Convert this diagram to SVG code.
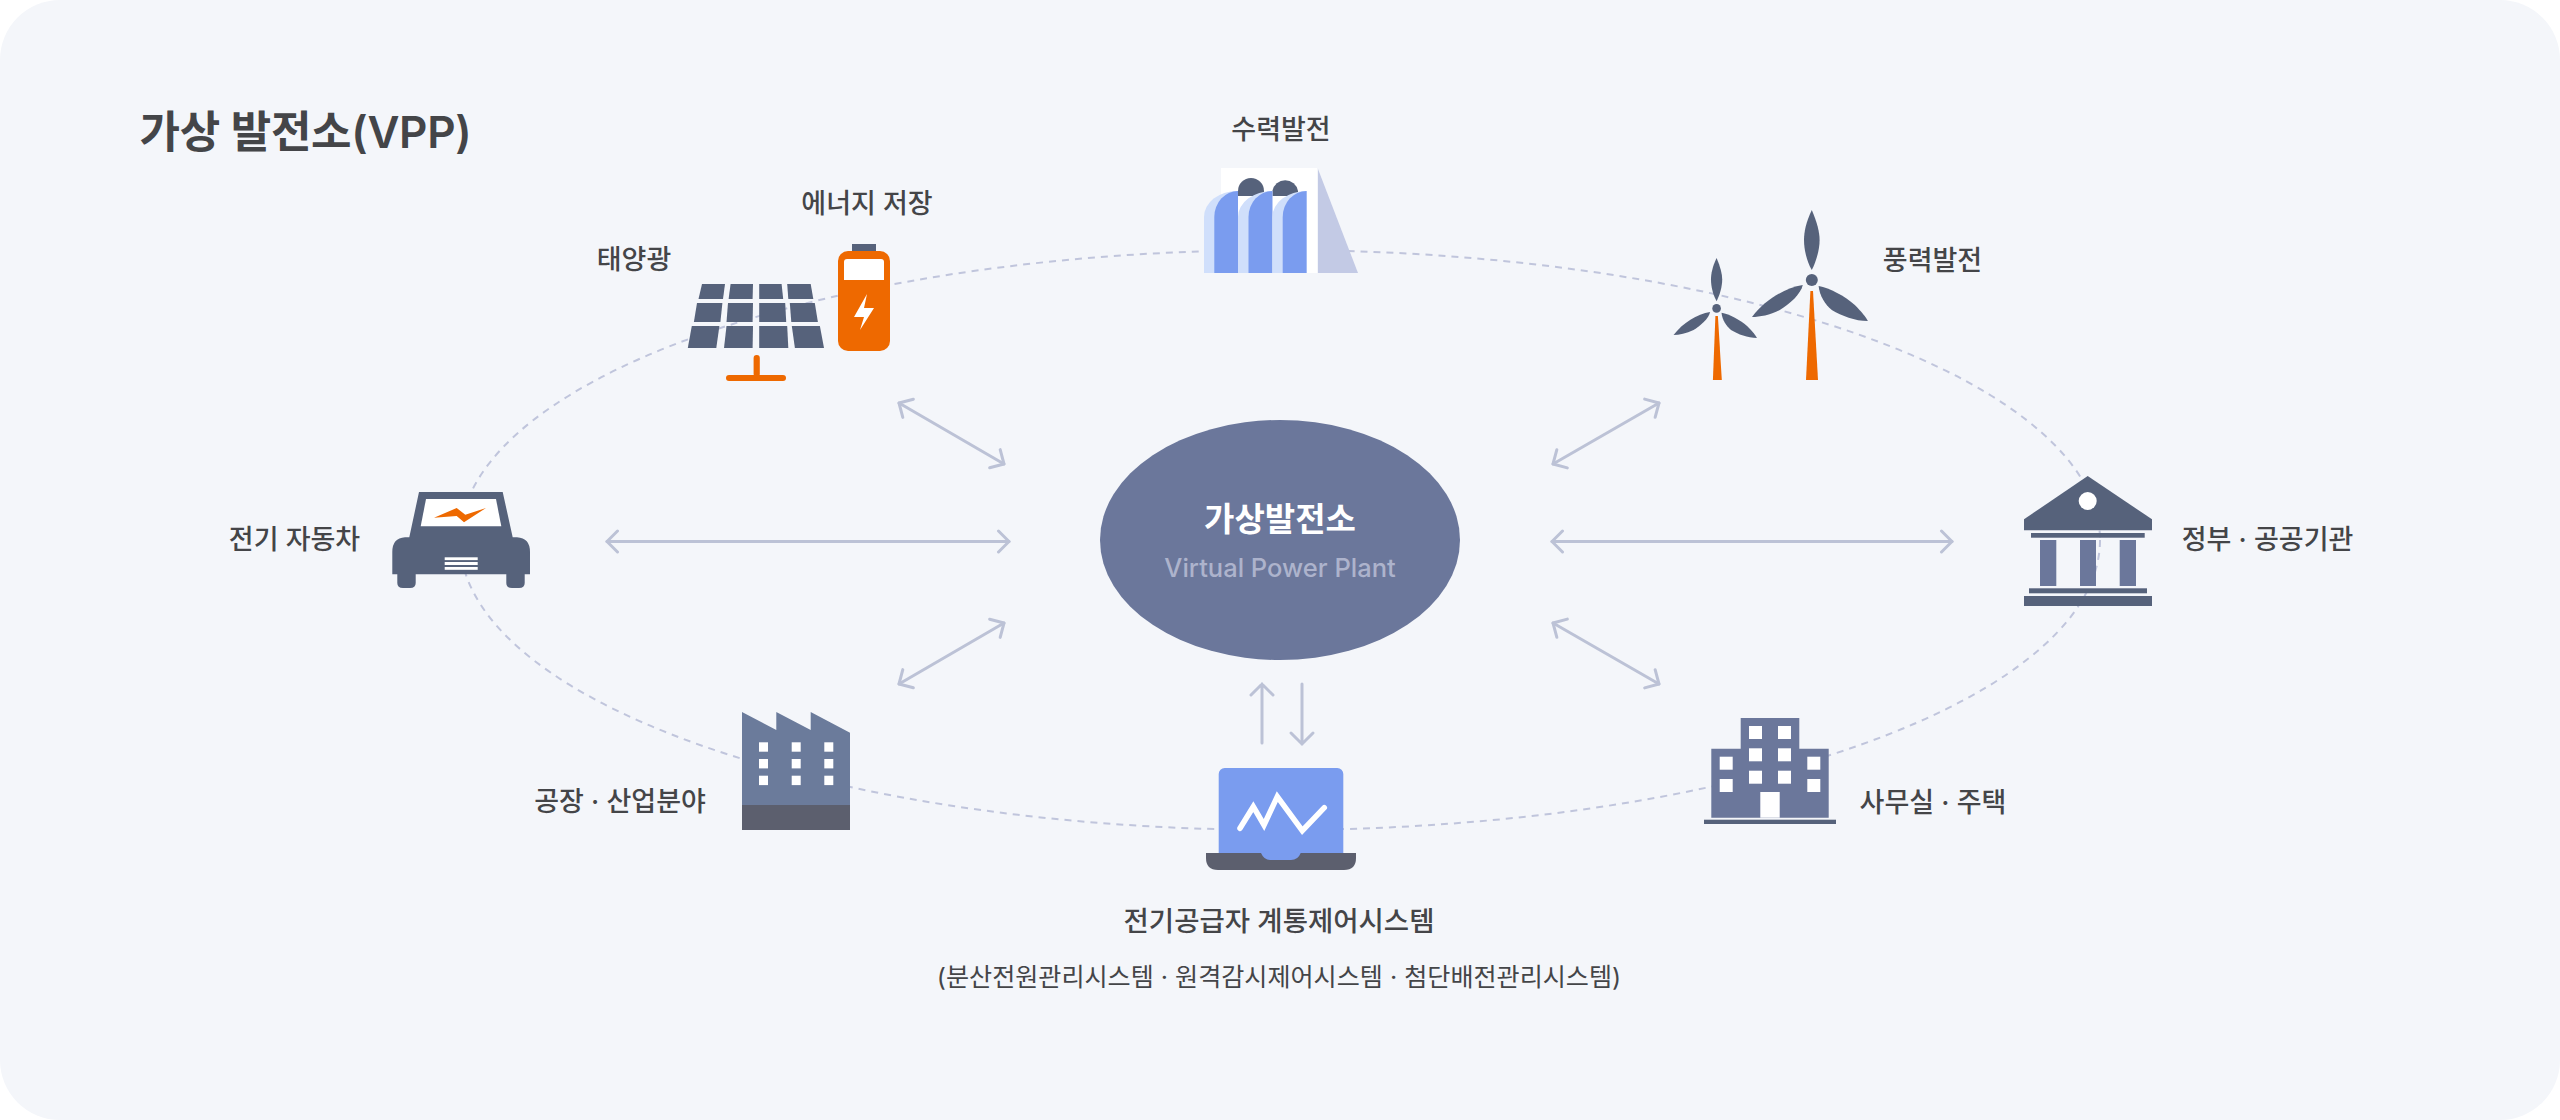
<svg xmlns="http://www.w3.org/2000/svg" xmlns:xlink="http://www.w3.org/1999/xlink" width="2560" height="1120" viewBox="0 0 2560 1120">
<style>
text{font-family:Inter,"Noto Sans CJK KR",sans-serif;fill:#444548;text-anchor:middle}
.lb{font-size:27px;font-weight:500}
.dk{fill:#56627b}.md{fill:#6b779b}.or{fill:#ee6900}.wh{fill:#fff}.bl{fill:#7a9cef}.lt{fill:#d0dffb}.gr{fill:#5c5f6e}
.arrow{fill:none;stroke:#bcc2d6;stroke-width:3;stroke-linecap:round;marker-start:url(#ah);marker-end:url(#ah)}
.arr1{fill:none;stroke:#bcc2d6;stroke-width:3;stroke-linecap:round}
</style>
<defs>
<marker id="ah" markerUnits="userSpaceOnUse" viewBox="-14 -14 16 28" markerWidth="16" markerHeight="28" refX="0" refY="0" orient="auto-start-reverse"><path d="M-10.5 -10.5L0 0L-10.5 10.5" fill="none" stroke="#bcc2d6" stroke-width="3" stroke-linecap="round" stroke-linejoin="round"/></marker>
<g id="blades" class="dk">
<path d="M0 -70C-5.8 -58 -7.8 -48 -7.8 -40C-7.8 -30 -4.8 -18 0 -10C4.2 -18 7.8 -30 7.8 -40C7.8 -48 5.2 -58 0 -70Z"/>
<path d="M-59.8 37C-47 20 -27 8 -9 5C-11 14 -22 24 -32 30C-42 35 -52 37 -59.8 37Z"/>
<path d="M6.8 6C18 8 33 16 43 25C50 32 54 37 56.1 41C43 41 30 36 20 30C13 24 8 16 6.8 6Z"/>
<circle r="6"/>
</g>
</defs>
<rect id="canvas" width="2560" height="1120" rx="60" fill="#f4f6fa"/>
<text id="title" x="305.5" y="148" font-size="44" font-weight="600" letter-spacing="-.3">가상 발전소(VPP)</text>
<g id="connectors">
<ellipse cx="1280" cy="540" rx="820" ry="290" fill="none" stroke="#c0c5dc" stroke-width="2" stroke-dasharray="7 6"/>
<path class="arrow" d="M607 541.5H1009"/>
<path class="arrow" d="M1552 541.5H1952"/>
<path class="arrow" d="M899 403L1004 464"/>
<path class="arrow" d="M1553 464L1659 403"/>
<path class="arrow" d="M899 684L1004 623"/>
<path class="arrow" d="M1553 623L1659 684"/>
<path class="arr1" d="M1262 743V684M1251 695L1262 684L1273 695"/>
<path class="arr1" d="M1302 684V744M1291 733L1302 744L1313 733"/>
</g>
<g id="center">
<ellipse cx="1280" cy="540" rx="180" ry="120" class="md"/>
<text x="1280" y="531" font-size="33" font-weight="700" style="fill:#fff">가상발전소</text>
<text x="1280" y="577" font-size="25.5" font-weight="500" style="fill:#adb3cc">Virtual Power Plant</text>
</g>
<g id="solar">
<g class="dk">
<polygon points="702,284 725,284 723,299 698.5,299"/><polygon points="730.6,284 753,284 752.6,299 728.6,299"/><polygon points="759.2,284 781.6,284 783.2,299 759.2,299"/><polygon points="787.2,284 810.7,284 813.3,299 788.3,299"/>
<polygon points="697,303 722.4,303 720.4,322 693.9,322"/><polygon points="728,303 753,303 752.6,322 726.5,322"/><polygon points="759.2,303 785.2,303 786.2,322 759.2,322"/><polygon points="789.8,303 814.8,303 817.9,322 791.3,322"/>
<polygon points="691.8,326 719.4,326 716.3,348 687.8,348"/><polygon points="726.5,326 753,326 752.6,348 724,348"/><polygon points="759.2,326 787.2,326 788.3,348 759.2,348"/><polygon points="791.8,326 819.9,326 824,348 794.9,348"/>
</g>
<rect x="753.6" y="355" width="6.2" height="22" rx="3" class="or"/>
<rect x="726" y="375" width="60" height="6" rx="3" class="or"/>
<text class="lb" x="634" y="269">태양광</text>
</g>
<g id="battery">
<rect x="852" y="244" width="24" height="8" class="dk"/>
<rect x="838" y="251" width="52" height="100" rx="10" class="or"/>
<path class="wh" d="M844 262a3 3 0 0 1 3-3h34a3 3 0 0 1 3 3v18h-40z"/>
<polygon class="wh" points="867,294 854,317 864,317 860,330 874,308 864,308"/>
<text class="lb" x="867" y="213">에너지 저장</text>
</g>
<g id="hydro">
<rect x="1221" y="168" width="96" height="105" class="wh"/>
<polygon points="1318,169 1358,273 1318,273" fill="#c3cae5"/>
<path class="dk" d="M1238 196V191A13 13 0 0 1 1264 191V196Z"/>
<path class="dk" d="M1272.4 196V191A13 13 0 0 1 1298 191V196Z"/>
<path class="lt" d="M1204 273V217A33 26 0 0 1 1237 191H1238V273Z"/>
<path class="bl" d="M1214.3 273V217A23.7 26 0 0 1 1238 191V273Z"/>
<path class="lt" d="M1238 273V217A34 26 0 0 1 1272.4 191V273Z"/>
<path class="bl" d="M1248.5 273V217A23.9 26 0 0 1 1272.4 191V273Z"/>
<path class="lt" d="M1272.4 273V217A34 26 0 0 1 1306.6 191V273Z"/>
<path class="bl" d="M1282.7 273V217A23.9 26 0 0 1 1306.6 191V273Z"/>
<text class="lb" x="1281" y="139">수력발전</text>
</g>
<g id="wind">
<use xlink:href="#blades" href="#blades" x="1811.8" y="280"/>
<use xlink:href="#blades" href="#blades" transform="translate(1716.6 308.4) scale(.72)"/>
<polygon class="or" points="1810.4,291 1813,291 1818,380 1806,380"/>
<polygon class="or" points="1715.4,316 1717.9,316 1721.8,380 1712.9,380"/>
<text class="lb" x="1932.5" y="269.5">풍력발전</text>
</g>
<g id="government">
<polygon class="dk" points="2087.7,476 2152,519.3 2152,530.3 2024,530.3 2024,519.3"/>
<circle class="wh" cx="2087.7" cy="501" r="9"/>
<rect class="dk" x="2031" y="533" width="113.7" height="4.7"/>
<rect class="md" x="2040" y="540" width="16.3" height="46"/><rect class="md" x="2080" y="540" width="16" height="46"/><rect class="md" x="2119.7" y="540" width="16.3" height="46"/>
<rect class="dk" x="2029" y="588.3" width="118" height="5"/>
<rect class="dk" x="2024" y="596" width="128" height="10"/>
<text class="lb" x="2267.5" y="549">정부 · 공공기관</text>
</g>
<g id="car">
<path class="dk" d="M419 492H502.7L512.7 537.3H517Q530 538 530 552V574.3H524.7V583Q524.7 588 519 588H512Q506.3 588 506.3 583V574.3H415.7V583Q415.7 588 410 588H403Q397.3 588 397.3 583V574.3H392.3V552Q392.3 538 405 537.3H409.3Z"/>
<polygon class="wh" points="426,499 496,499 501.3,526.3 420.7,526.3"/>
<polygon class="or" points="434,517.7 456.7,508 465.3,514.7 486,508 464,522.3 456.7,516"/>
<rect class="wh" x="444.7" y="557.3" width="33" height="2.8"/><rect class="wh" x="444.7" y="562" width="33" height="3"/><rect class="wh" x="444.7" y="567" width="33" height="2.8"/>
<text class="lb" x="294.5" y="549">전기 자동차</text>
</g>
<g id="factory">
<polygon points="742,712 776.3,730 776.3,712 810.7,730 810.7,712 850,732.7 850,805 742,805" fill="#6b7b9b"/>
<rect class="gr" x="742" y="805" width="108" height="25"/>
<g class="wh">
<rect x="759" y="742.3" width="9" height="9.4"/><rect x="791.7" y="742.3" width="9" height="9.4"/><rect x="824.3" y="742.3" width="9" height="9.4"/>
<rect x="759" y="759" width="9" height="9.4"/><rect x="791.7" y="759" width="9" height="9.4"/><rect x="824.3" y="759" width="9" height="9.4"/>
<rect x="759" y="775.7" width="9" height="9.4"/><rect x="791.7" y="775.7" width="9" height="9.4"/><rect x="824.3" y="775.7" width="9" height="9.4"/>
</g>
<text class="lb" x="620" y="810.5">공장 · 산업분야</text>
</g>
<g id="laptop">
<path class="gr" d="M1206 853H1356V858Q1356 870 1344 870H1218Q1206 870 1206 858Z"/>
<path class="bl" d="M1218.7 853V774a6 6 0 0 1 6-6H1337.3a6 6 0 0 1 6 6V853H1300.7Q1298 860 1291 860H1270Q1264 860 1261 853Z"/>
<path d="M1240 828.3L1253.3 806.7L1264 825L1277.3 796.7L1302.3 830.7L1324.3 807.7" fill="none" stroke="#fff" stroke-width="5.5" stroke-linecap="round"/>
<text x="1279" y="930.5" font-size="27.5" font-weight="500">전기공급자 계통제어시스템</text>
<text x="1279" y="985.5" font-size="25.1" font-weight="400">(분산전원관리시스템 · 원격감시제어시스템 · 첨단배전관리시스템)</text>
</g>
<g id="office">
<path class="md" d="M1740.7 718H1799.3V748.7H1828.7V817.7H1711.3V748.7H1740.7Z"/>
<rect class="dk" x="1704" y="819.7" width="132" height="4.3"/>
<rect class="wh" x="1760.3" y="792" width="19.4" height="25.7"/>
<g class="wh">
<rect x="1749" y="726" width="13" height="13"/><rect x="1778" y="726" width="13" height="13"/>
<rect x="1749" y="748.3" width="13" height="13"/><rect x="1778" y="748.3" width="13" height="13"/>
<rect x="1749" y="770.7" width="13" height="13"/><rect x="1778" y="770.7" width="13" height="13"/>
<rect x="1719.7" y="756.7" width="13" height="13"/><rect x="1807.3" y="756.7" width="13" height="13"/>
<rect x="1719.7" y="779" width="13" height="13"/><rect x="1807.3" y="779" width="13" height="13"/>
</g>
<text class="lb" x="1933" y="811.5">사무실 · 주택</text>
</g>
</svg>
